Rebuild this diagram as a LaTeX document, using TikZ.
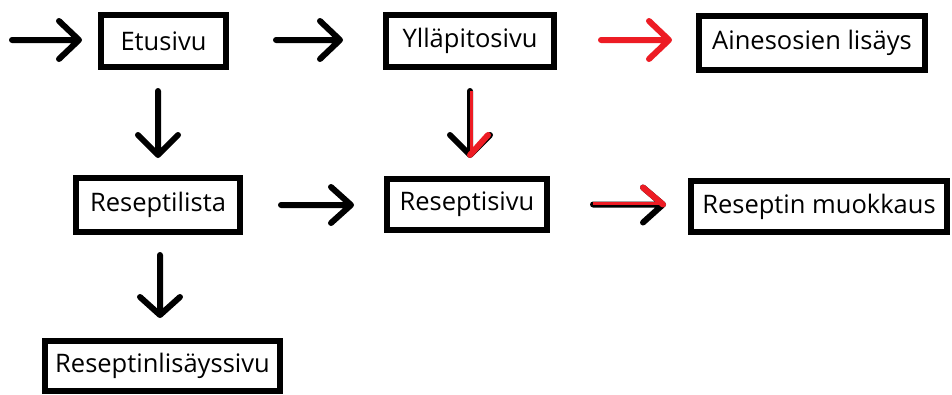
\documentclass[tikz,border=0pt]{standalone}
\usepackage{fontspec}
\setmainfont{Open Sans}
\definecolor{pred}{HTML}{ED1C24}
\begin{document}
\begin{tikzpicture}[x=1pt,y=-1pt,
  box/.style={draw, line width=6pt, minimum height=52pt, inner sep=0pt,
    font=\fontsize{25.5}{29}\selectfont},
  arr/.style={line width=6pt, line cap=round, line join=round},
  redpart/.style={pred, line width=3pt}]
\path[use as bounding box, fill=white] (0,0) rectangle (952,394);
% boxes
\node[box, minimum width=125pt] (etu) at (163.5,41) {Etusivu};
\node[box, minimum width=168pt] (yll) at (470,41) {Ylläpitosivu};
\node[box, minimum width=226pt, minimum height=54pt] (aines) at (812,43) {Ainesosien lisäys};
\node[box, minimum width=164pt, minimum height=54pt] (lista) at (158,205) {Reseptilista};
\node[box, minimum width=160pt, minimum height=51pt] (sivu) at (467,204.5) {Reseptisivu};
\node[box, minimum width=256pt, minimum height=51pt] (muok) at (819,206.5) {Reseptin muokkaus};
\node[box, minimum width=235pt, minimum height=50pt] (lis) at (162.5,366) {Reseptinlisäyssivu};
% entry arrow
\coordinate (a0s) at (12,40);
\path (etu.west) ++(-19,-1) coordinate (a0e);
\draw[arr] (a0s) -- (a0e) ++(-20,-19) -- (a0e) -- ++(-20,19);
% Etusivu -> Yllapitosivu
\path (etu.east) ++(47,-1) coordinate (a1s);
\path (yll.west) ++(-43,-1) coordinate (a1e);
\draw[arr] (a1s) -- (a1e) ++(-20,-19) -- (a1e) -- ++(-20,19);
% Yllapitosivu -> Ainesosien lisays (red)
\path (yll.east) ++(44,-1) coordinate (a2s);
\path (yll.east) ++(112,-1) coordinate (a2e);
\draw[arr, pred] (a2s) -- (a2e) ++(-20,-19) -- (a2e) -- ++(-20,19);
% Etusivu -> Reseptilista
\path (etu.south -| lista.north) ++(0,21) coordinate (a3s);
\path (lista.north) ++(0,-20) coordinate (a3e);
\draw[arr] (a3s) -- (a3e) ++(-20,-20) -- (a3e) -- ++(20,-20);
% Yllapitosivu -> Reseptisivu (black, partly painted red)
\path (yll.south) ++(0,21) coordinate (a4s);
\path (yll.south |- sivu.north) ++(0,-21) coordinate (a4e);
\draw[arr] (a4s) -- (a4e) ++(-20,-20) -- (a4e) -- ++(20,-20);
\draw[redpart] ([xshift=1.5pt]a4s) -- ([xshift=1.5pt]a4e);
\draw[arr, pred] (a4e) -- ++(18,-20);
% Reseptilista -> Reseptisivu
\path (lista.east) ++(38,0) coordinate (a5s);
\path (lista.east) ++(108,0) coordinate (a5e);
\draw[arr] (a5s) -- (a5e) ++(-20,-18) -- (a5e) -- ++(-20,18);
% Reseptisivu -> Reseptin muokkaus (black, partly painted red)
\path (sivu.east) ++(43,0) coordinate (a6s);
\path (sivu.east) ++(113,0) coordinate (a6e);
\draw[arr] (a6s) -- (a6e) ++(-20,-17) -- (a6e) -- ++(-20,18);
\draw[redpart] ([yshift=1.5pt]a6s) -- ([yshift=1.5pt]a6e);
\draw[arr, pred] (a6e) -- ++(-20,-17);
% Reseptilista -> Reseptinlisayssivu
\path (lista.south) ++(2,20) coordinate (a7s);
\path (lista.south |- lis.north) ++(2,-23) coordinate (a7e);
\draw[arr] (a7s) -- (a7e) ++(-20,-18) -- (a7e) -- ++(20,-18);
\end{tikzpicture}
\end{document}
